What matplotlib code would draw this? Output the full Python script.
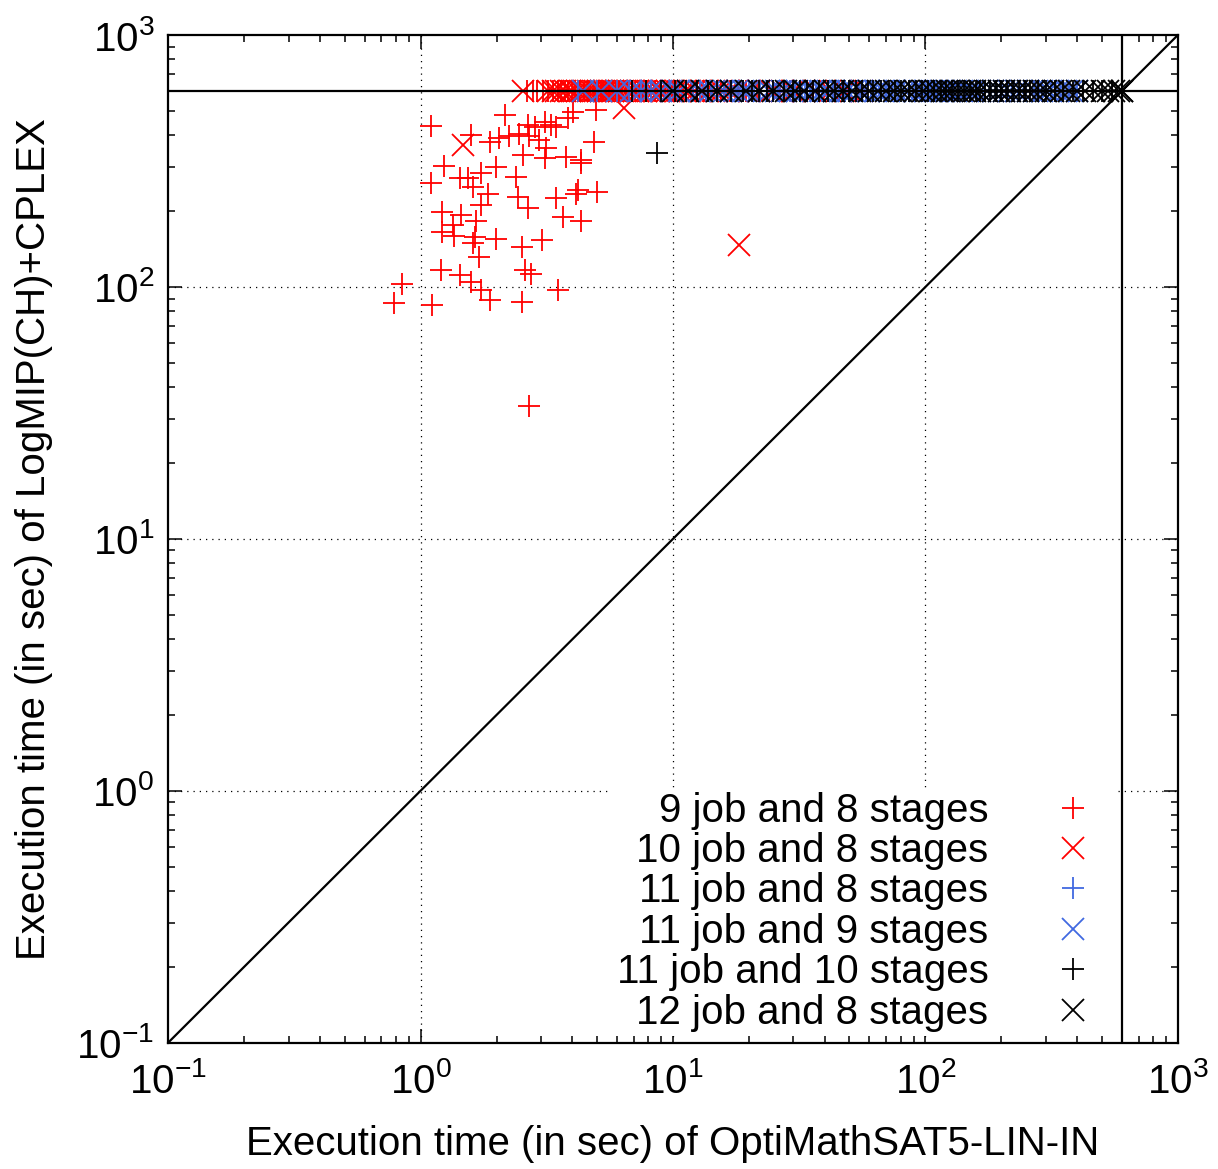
import matplotlib
matplotlib.use("Agg")
import matplotlib.pyplot as plt
import numpy as np

plt.rcParams['font.family'] = ['Liberation Sans', 'DejaVu Sans']
plt.rcParams['mathtext.fontset'] = 'custom'
plt.rcParams['mathtext.rm'] = 'Liberation Sans'
plt.rcParams['mathtext.it'] = 'Liberation Sans'

TIMEOUT = 600

# 9 job and 8 stages (red +): scattered points
j9s8_x = [1.10, 2.17, 1.59, 1.24, 1.10, 1.43, 1.54, 1.74, 1.99, 1.88, 2.05, 2.25, 2.46, 2.66,
          2.83, 3.10, 3.29, 3.44, 2.70, 2.96, 3.14, 2.54, 3.10, 3.77, 4.32, 4.32, 4.88, 4.01,
          4.96, 3.83, 2.39, 1.61, 1.85, 1.74, 2.43, 2.66, 3.44, 4.19, 4.13, 4.99, 3.66, 4.32,
          1.22, 1.45, 1.34, 1.66, 1.22, 1.36, 1.64, 1.99, 1.61, 1.71, 2.53, 3.02, 1.21, 1.43,
          1.59, 1.74, 1.88, 2.60, 2.74, 3.49, 0.846, 0.784, 1.11, 2.52, 2.68]
j9s8_y = [437, 482, 401, 302, 259, 272, 270, 283, 300, 375, 389, 397, 405, 439,
          433, 453, 439, 433, 397, 383, 355, 334, 324, 329, 319, 310, 377, 496,
          504, 467, 274, 250, 235, 212, 228, 205, 225, 243, 235, 238, 190, 182,
          199, 193, 176, 182, 166, 159, 158, 155, 149, 132, 144, 154, 117, 112,
          105, 97.2, 88.7, 117, 113, 97.2, 103, 86.2, 84.8, 87.4, 33.7]
# 9 job and 8 stages: runs at the timeout of LogMIP
j9s8_to = [2.65, 2.8, 2.9, 3.05, 3.2, 3.35, 3.5, 3.6, 3.75, 3.85, 4.0, 4.1, 4.3, 4.45, 4.6,
           4.7, 4.85, 5.05, 5.2, 5.3, 5.45, 5.6, 5.8, 5.95, 6.1, 6.3, 6.5, 6.7, 6.9, 7.1,
           7.35, 7.6, 7.9, 8.2, 8.5, 8.9, 9.2, 9.6, 10.0, 10.4, 10.9, 11.3, 11.8, 12.3, 13.2,
           14.2, 15.5, 16.8, 18.1, 19.5, 21.5, 24, 26.5, 29, 32, 36, 41, 47, 54]

# 10 job and 8 stages (red x)
j10s8_x = [1.47, 18.3, 6.42]
j10s8_y = [366, 147, 513]
j10s8_to = [2.55, 3.2, 3.35, 3.45, 3.6, 3.75, 3.9, 4.0, 4.15, 4.3, 4.45, 4.6, 4.75, 4.9,
            5.05, 5.2, 5.35, 5.5, 5.65, 5.8, 5.95, 6.1, 6.35, 6.6, 6.8, 7.0, 7.25, 7.5, 7.8,
            8.1, 8.45, 8.8, 9.1, 9.5, 9.9, 10.3, 10.7, 11.2, 11.7, 12.2, 12.9, 13.6, 14.5,
            15.5, 16.7, 18, 20, 22, 24.5, 27, 30, 33, 37, 42, 48, 56]

# 11 job and 8 stages (blue +)
j11s8_to = [4.2, 5.0, 6.0, 6.7, 7.5, 8.2, 9.0, 9.7, 10.5, 11.3, 12, 12.8, 13.5, 14.2, 15, 16,
            17, 18, 19, 20, 21, 22.2, 23.5, 24.8, 26, 27.5, 29, 30.5, 32, 33.5, 35, 37, 39,
            41, 43, 45.5, 48, 50.5, 53, 55.5, 58, 61, 64, 67, 70, 74, 78, 82, 86, 90, 95, 100,
            105, 111, 118, 124, 130, 137, 145, 152, 160, 170, 180, 190, 200, 212, 225, 237,
            250, 270, 290, 315, 340, 370, 400]
# 11 job and 9 stages (blue x)
j11s9_to = [4.4, 5.2, 6.0, 6.8, 7.5, 8.2, 9.0, 9.8, 10.6, 11.5, 12.7, 14, 15, 16, 17, 18, 19,
            20, 22, 24, 25.5, 27, 29, 31, 33.5, 36, 38.5, 41, 43.5, 46, 49, 52, 56, 60, 64,
            68, 72, 76, 83, 90, 95, 100, 106, 112, 118, 125, 132, 140, 147, 155, 165, 175,
            185, 195, 205, 215, 228, 240, 255, 270, 290, 310, 335, 360, 380, 400]

# 11 job and 10 stages (black +)
j11s10_x = [8.67]
j11s10_y = [340]
j11s10_to = [6.9, 7.8, 9.0, 10.2, 11.3, 12.5, 13.8, 15, 17, 19, 20.5, 22, 23.5, 25, 27.5, 30,
             32, 34, 36, 38, 41, 44, 47, 50, 53, 56, 59, 62, 67, 72, 76, 80, 86, 92, 97, 102,
             108, 115, 121, 128, 135, 142, 150, 158, 165, 172, 181, 190, 200, 210, 222, 235,
             247, 260, 280, 300, 325, 350, 385, 420, 460, 500, 550, 600]
# 12 job and 8 stages (black x)
j12s8_to = [10, 11.5, 13, 15, 17, 19.5, 22, 25, 28, 30.5, 33, 36.5, 40, 43.5, 47, 51, 55, 60,
            65, 70, 75, 80, 85, 91, 98, 104, 110, 116, 122, 128, 135, 142, 150, 157, 165, 175,
            185, 195, 205, 217, 230, 242, 255, 270, 285, 300, 320, 345, 370, 400, 430, 465,
            500, 530, 560, 585, 600, 600]

decades = [0.1, 1, 10, 100, 1000]

RED = '#ff0000'
BLUE = '#4169e1'
BLACK = '#000000'

fig = plt.figure(figsize=(12.18, 11.69), dpi=100)
ax = fig.add_axes([0.138, 0.108, 0.829, 0.862])

ms, mew = 15.5, 1.3

series = [
    ("9 job and 8 stages", j9s8_x + j9s8_to, j9s8_y + [TIMEOUT] * len(j9s8_to), '+', RED),
    ("10 job and 8 stages", j10s8_x + j10s8_to, j10s8_y + [TIMEOUT] * len(j10s8_to), 'x', RED),
    ("11 job and 8 stages", j11s8_to, [TIMEOUT] * len(j11s8_to), '+', BLUE),
    ("11 job and 9 stages", j11s9_to, [TIMEOUT] * len(j11s9_to), 'x', BLUE),
    ("11 job and 10 stages", j11s10_x + j11s10_to, j11s10_y + [TIMEOUT] * len(j11s10_to), '+', BLACK),
    ("12 job and 8 stages", j12s8_to, [TIMEOUT] * len(j12s8_to), 'x', BLACK),
]
for label, xs, ys, m, c in series:
    ax.plot(xs, ys, linestyle='none', marker=m, color=c, markersize=ms,
            markeredgewidth=mew, label=label, zorder=3)

# dotted grid drawn by hand so the legend box can sit above it but below the ticks
for d in decades[1:-1]:
    ax.axhline(d, color='black', lw=0.9, linestyle=(0, (1, 4)), zorder=1)
    ax.axvline(d, color='black', lw=0.9, linestyle=(0, (1, 4)), zorder=1)

# reference lines: diagonal and timeouts
ax.plot([0.1, 1000], [0.1, 1000], color='black', lw=1.6, zorder=10)
ax.axhline(TIMEOUT, color='black', lw=1.6, zorder=10)
ax.axvline(TIMEOUT, color='black', lw=1.6, zorder=10)

ax.set_xscale('log')
ax.set_yscale('log')
ax.set_xlim(0.1, 1000)
ax.set_ylim(0.1, 1000)

ax.tick_params(which='both', direction='in', top=True, right=True, width=1.1)
ax.tick_params(which='major', length=10, labelsize=29)
ax.tick_params(axis='x', which='major', pad=14)
ax.tick_params(axis='y', which='major', pad=10)
ax.tick_params(which='minor', length=5)
for s in ax.spines.values():
    s.set_linewidth(1.6)

ax.set_xlabel("Execution time (in sec) of OptiMathSAT5-LIN-IN", fontsize=29, labelpad=17)
ax.set_ylabel("Execution time (in sec) of LogMIP(CH)+CPLEX", fontsize=29, labelpad=17)

leg = ax.legend(loc='lower right', bbox_to_anchor=(0.96, -0.013), markerfirst=False, fontsize=29,
                frameon=True, fancybox=False, edgecolor='none', facecolor='white', framealpha=1,
                handlelength=2.0, handletextpad=1.1, labelspacing=0.06, borderpad=0.1)
leg.set_zorder(2)

fig.savefig("out.png", dpi=100)
